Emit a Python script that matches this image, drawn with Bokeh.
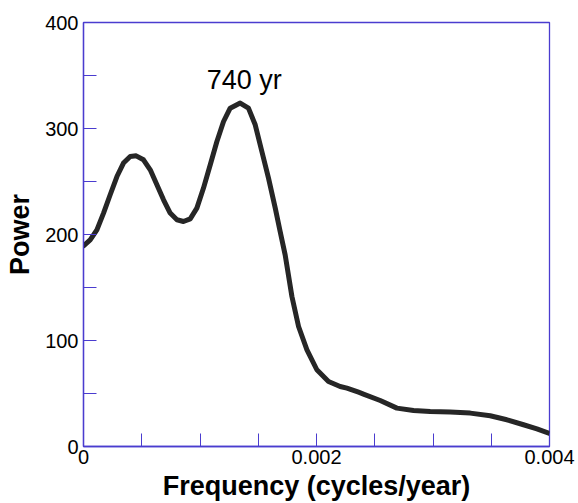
from bokeh.plotting import figure
from bokeh.models import Range1d, FixedTicker, CustomJSTickFormatter, Label
from bokeh.embed import file_html
from bokeh.resources import INLINE

# Data
freq = [0.0, 0.0000575, 0.000115, 0.000172, 0.000229, 0.000287, 0.000343, 0.000401,
        0.000452, 0.000515, 0.000573, 0.00063, 0.000687, 0.000744, 0.000802, 0.000858,
        0.000916, 0.000973, 0.00103, 0.001088, 0.001145, 0.001202, 0.001259, 0.001345,
        0.001416, 0.001474, 0.001531, 0.001588, 0.001646, 0.001688, 0.001731, 0.001789,
        0.001846, 0.001918, 0.002003, 0.002103, 0.002203, 0.002261, 0.002361, 0.002403,
        0.002547, 0.00269, 0.002833, 0.002976, 0.003148, 0.00332, 0.003491, 0.003634,
        0.003777, 0.003892, 0.004]
power = [189.3, 195.0, 204.4, 220.2, 237.5, 254.7, 267.4, 273.6,
         274.2, 270.5, 261.0, 246.9, 232.7, 220.2, 213.9, 212.3,
         214.8, 224.9, 243.8, 265.8, 287.7, 306.6, 319.2, 324.0,
         319.2, 303.5, 278.3, 253.2, 224.9, 202.8, 180.8, 141.5,
         113.2, 91.2, 72.4, 61.3, 56.6, 55.0, 51.2, 49.5,
         43.4, 36.2, 34.0, 33.0, 32.5, 31.5, 29.0, 25.2,
         20.5, 16.7, 12.3]

x_major = [0.0, 0.002, 0.004]
x_minor = [0.0005, 0.001, 0.0015, 0.0025, 0.003, 0.0035]
y_major = [0, 100, 200, 300, 400]
y_minor = [50, 150, 250, 350]

peak_label = "740 yr"
AX = "#4a3ccf"
FONT = "Liberation Sans"

p = figure(width=578, height=503, output_backend="svg", toolbar_location=None,
           x_range=Range1d(0, 0.004), y_range=Range1d(0, 400),
           min_border_left=83, min_border_right=29, min_border_top=22, min_border_bottom=56)
p.grid.visible = False
p.outline_line_color = AX
p.outline_line_width = 1.3
p.background_fill_color = "white"
p.border_fill_color = "white"

p.line(freq, power, line_color="#262626", line_width=5, line_cap="round", line_join="round")

p.add_layout(Label(x=0.00138, y=346, text=peak_label, text_align="center",
                   text_baseline="middle", text_font=FONT, text_font_size="27px",
                   text_color="black"))

for ax, maj, mnr in ((p.xaxis[0], x_major, x_minor), (p.yaxis[0], y_major, y_minor)):
    ax.ticker = FixedTicker(ticks=maj, minor_ticks=mnr)
    ax.axis_line_color = AX
    ax.axis_line_width = 1.3
    ax.major_tick_line_color = AX
    ax.minor_tick_line_color = AX
    ax.major_tick_in = 13
    ax.major_tick_out = 0
    ax.minor_tick_in = 13
    ax.minor_tick_out = 0
    ax.major_label_text_font = FONT
    ax.major_label_text_font_size = "20px"
    ax.major_label_text_color = "black"
    ax.axis_label_text_font = FONT
    ax.axis_label_text_font_size = "27px"
    ax.axis_label_text_font_style = "bold"
    ax.axis_label_text_color = "black"

p.xaxis[0].formatter = CustomJSTickFormatter(code="return tick == 0 ? '0' : tick.toFixed(3);")
p.xaxis[0].axis_label = "Frequency (cycles/year)"
p.xaxis[0].major_label_standoff = 3
p.xaxis[0].axis_label_standoff = 4
p.yaxis[0].axis_label = "Power"
p.yaxis[0].major_label_standoff = 5
p.yaxis[0].axis_label_standoff = 7

open("out.html", "w").write(file_html(p, INLINE))
